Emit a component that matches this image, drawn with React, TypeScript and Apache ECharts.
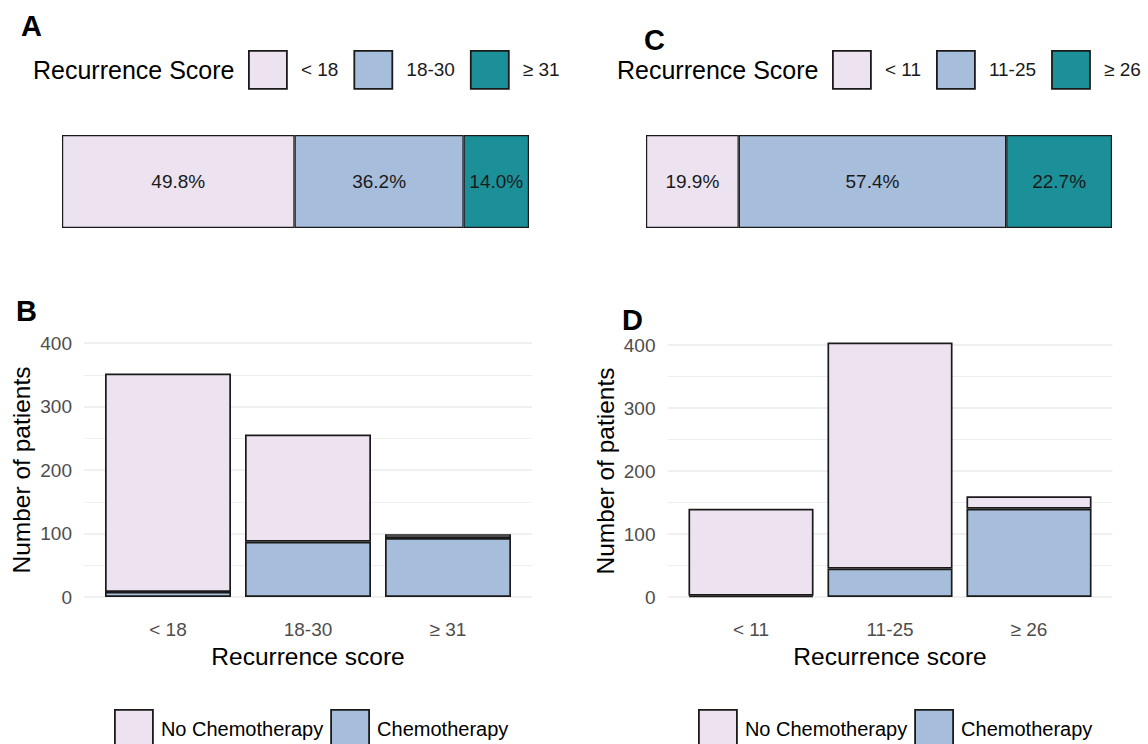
import React, { useEffect, useRef } from "react";
import * as echarts from "echarts";

// ---- Data ----
const catsA = ["< 18", "18-30", "≥ 31"];
const pctA = [49.8, 36.2, 14.0];
const catsC = ["< 11", "11-25", "≥ 26"];
const pctC = [19.9, 57.4, 22.7];

const catsB = ["< 18", "18-30", "≥ 31"];
const chemoB = [8, 87, 93];
const noChemoB = [344, 169, 6];

const catsD = ["< 11", "11-25", "≥ 26"];
const chemoD = [2, 45, 140];
const noChemoD = [138, 359, 20];

const yTicks = [0, 100, 200, 300, 400];
const groupNames = ["No Chemotherapy", "Chemotherapy"];

// ---- Styles ----
const FONT = '"Liberation Sans", Arial, Helvetica, sans-serif';
const COL = ["#ECE2F0", "#A6BDDB", "#1C9099"];
const EDGE = "#1a1a1a";

function pctSeries(cats: string[], vals: number[], idx: number, stack: string) {
  return cats.map((name, i) => ({
    type: "bar",
    name,
    stack,
    xAxisIndex: idx,
    yAxisIndex: idx,
    barWidth: "100%",
    data: [vals[i]],
    itemStyle: { color: COL[i], borderColor: EDGE, borderWidth: 1.2 },
    label: {
      show: true,
      position: "inside",
      formatter: (p: any) => Number(p.value).toFixed(1) + "%",
      fontSize: 19,
      fontFamily: FONT,
      color: "#1a1a1a",
    },
  }));
}

function countSeries(chemo: number[], noChemo: number[], idx: number, stack: string) {
  return [
    {
      type: "bar",
      name: groupNames[1],
      stack,
      clip: false,
      xAxisIndex: idx,
      yAxisIndex: idx,
      barWidth: "90%",
      data: chemo,
      itemStyle: { color: COL[1], borderColor: EDGE, borderWidth: 1.7 },
    },
    {
      type: "bar",
      name: groupNames[0],
      stack,
      clip: false,
      xAxisIndex: idx,
      yAxisIndex: idx,
      barWidth: "90%",
      data: noChemo,
      itemStyle: { color: COL[0], borderColor: EDGE, borderWidth: 1.7 },
    },
  ];
}

function gridYAxis(gridIndex: number) {
  return {
    type: "value",
    gridIndex,
    min: yTicks[0],
    max: yTicks[yTicks.length - 1],
    interval: 100,
    name: "Number of patients",
    nameLocation: "middle",
    nameGap: 50,
    nameTextStyle: { fontSize: 24.5, fontFamily: FONT, color: "#000" },
    axisLine: { show: false },
    axisTick: { show: false },
    axisLabel: { fontSize: 19, fontFamily: FONT, color: "#4D4D4D", margin: 12 },
    splitLine: { show: true, lineStyle: { color: "#EBEBEB", width: 1.6 } },
    minorTick: { show: false, splitNumber: 2 },
    minorSplitLine: { show: true, lineStyle: { color: "#EFEFEF", width: 1 } },
  };
}

function hiddenValueY(gridIndex: number) {
  return { type: "value", gridIndex, min: 0, max: 400, show: false };
}

function catXAxis(gridIndex: number, cats: string[]) {
  return {
    type: "category",
    gridIndex,
    data: cats,
    name: "Recurrence score",
    nameLocation: "middle",
    nameGap: 47,
    nameTextStyle: { fontSize: 24.5, fontFamily: FONT, color: "#000" },
    axisLine: { show: false },
    axisTick: { show: false },
    axisLabel: { fontSize: 19, fontFamily: FONT, color: "#4D4D4D", margin: 23 },
    splitLine: { show: false },
  };
}

function topLegend(left: number, data: string[]) {
  return {
    left,
    top: 50,
    width: 360,
    padding: 0,
    orient: "horizontal",
    icon: "rect",
    itemWidth: 38,
    itemHeight: 38,
    itemGap: 15,
    selectedMode: false,
    data,
    itemStyle: { borderColor: EDGE, borderWidth: 1.8 },
    textStyle: { fontSize: 19, fontFamily: FONT, color: "#1a1a1a", padding: [0, 0, 0, 9] },
  };
}

function bottomLegend(left: number) {
  return {
    left,
    top: 709,
    width: 500,
    padding: 0,
    orient: "horizontal",
    icon: "rect",
    itemWidth: 38,
    itemHeight: 38,
    itemGap: 7,
    selectedMode: false,
    data: groupNames,
    itemStyle: { borderColor: EDGE, borderWidth: 1.8 },
    textStyle: { fontSize: 20, fontFamily: FONT, color: "#000", padding: [0, 0, 0, 3] },
  };
}

function letter(text: string, x: number, y: number) {
  return {
    type: "text",
    left: x,
    top: y,
    style: { text, fontSize: 29, fontWeight: "bold", fontFamily: FONT, fill: "#000" },
  };
}

function legendTitle(x: number, y: number) {
  return {
    type: "text",
    x,
    y,
    style: {
      text: "Recurrence Score",
      fontSize: 25,
      fontFamily: FONT,
      fill: "#000",
      verticalAlign: "middle",
      align: "left",
    },
  };
}

export default function App() {
  const ref = useRef<HTMLDivElement>(null);
  useEffect(() => {
    if (!ref.current) return;
    const chart = echarts.init(ref.current, undefined, { renderer: "svg" });
    const option: any = {
      animation: false,
      backgroundColor: "#fff",
      textStyle: { fontFamily: FONT },
      grid: [
        { left: 62, top: 135, width: 467, height: 93, outerBoundsMode: "none" },
        { left: 646, top: 135, width: 466, height: 93, outerBoundsMode: "none" },
        { left: 84, top: 343, width: 448, height: 254, outerBoundsMode: "none" },
        { left: 98, top: 343, width: 420, height: 254, outerBoundsMode: "none" },
        { left: 667.5, top: 345, width: 445, height: 252, outerBoundsMode: "none" },
        { left: 681.5, top: 345, width: 417, height: 252, outerBoundsMode: "none" },
      ],
      xAxis: [
        { type: "value", gridIndex: 0, min: 0, max: 100, show: false },
        { type: "value", gridIndex: 1, min: 0, max: 100, show: false },
        { type: "value", gridIndex: 2, min: 0, max: 1, show: false },
        catXAxis(3, catsB),
        { type: "value", gridIndex: 4, min: 0, max: 1, show: false },
        catXAxis(5, catsD),
      ],
      yAxis: [
        { type: "category", gridIndex: 0, data: ["A"], show: false },
        { type: "category", gridIndex: 1, data: ["C"], show: false },
        gridYAxis(2),
        hiddenValueY(3),
        gridYAxis(4),
        hiddenValueY(5),
      ],
      legend: [
        topLegend(248, catsA),
        topLegend(832, catsC),
        bottomLegend(114),
        bottomLegend(698),
      ],
      graphic: [
        letter("A", 21, 11),
        letter("C", 644, 25),
        letter("B", 16, 296),
        letter("D", 622, 305),
        legendTitle(33, 70),
        legendTitle(617, 70),
      ],
      series: [
        ...pctSeries(catsA, pctA, 0, "A"),
        ...pctSeries(catsC, pctC, 1, "C"),
        ...countSeries(chemoB, noChemoB, 3, "B"),
        ...countSeries(chemoD, noChemoD, 5, "D"),
      ],
    };
    chart.setOption(option);
    return () => chart.dispose();
  }, []);
  return (
    <div
      ref={ref}
      style={{ position: "absolute", left: 0, top: 0, width: 1148, height: 744 }}
    />
  );
}
